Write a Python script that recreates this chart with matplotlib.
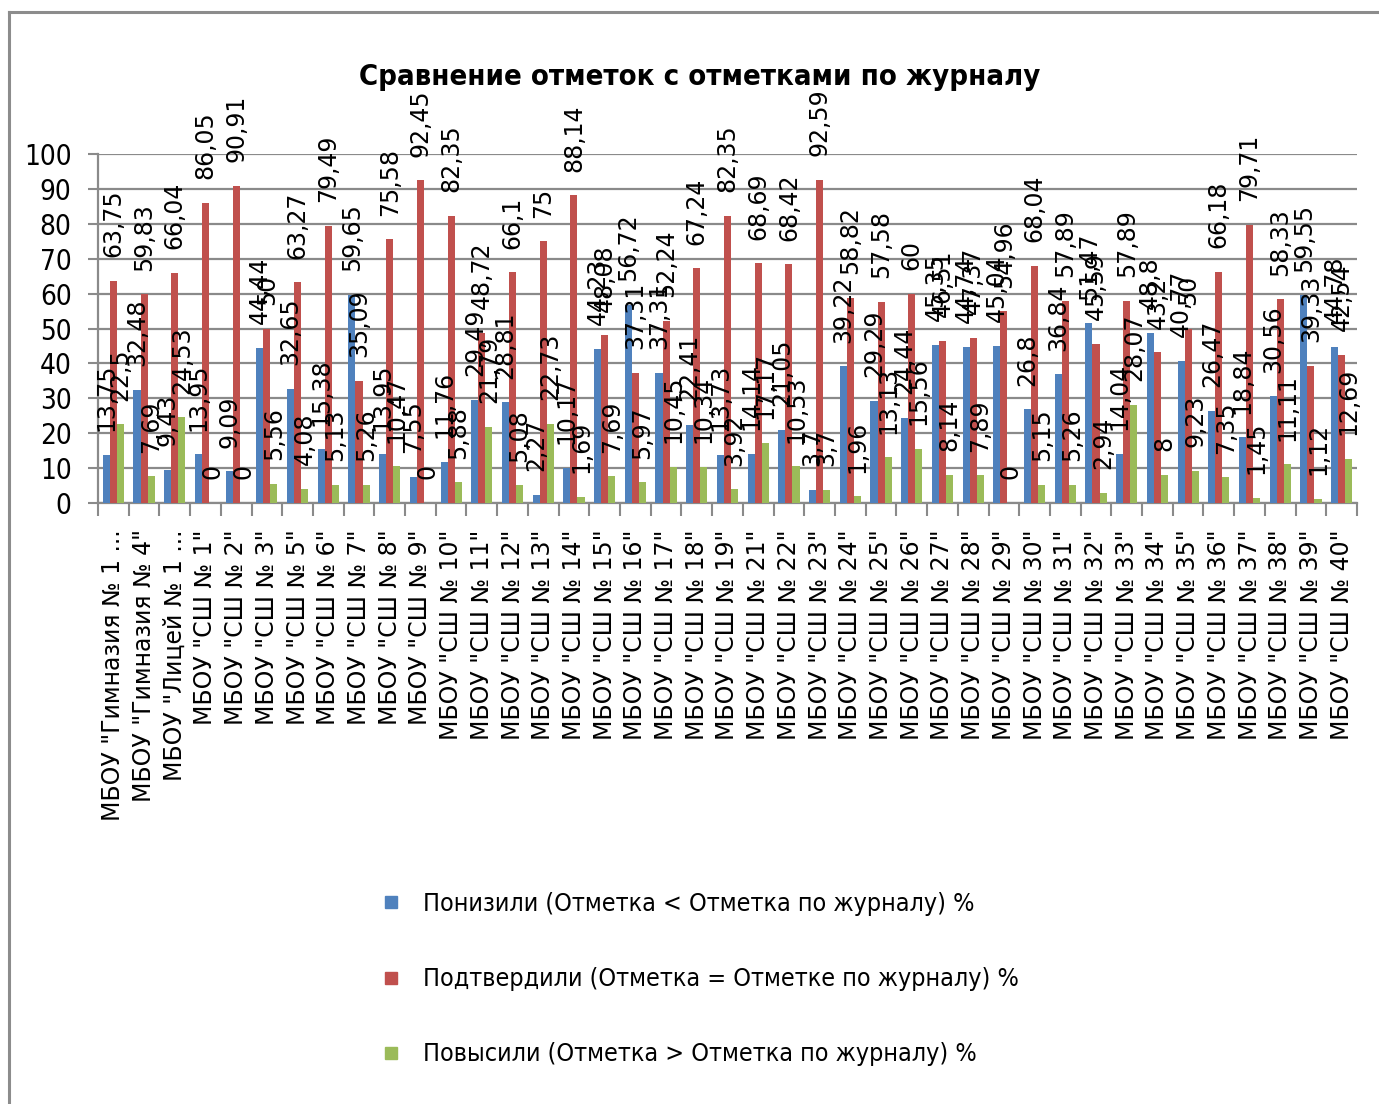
import matplotlib
matplotlib.use("Agg")
import matplotlib.pyplot as plt
import numpy as np
from matplotlib import font_manager
from matplotlib.font_manager import FontProperties
from matplotlib.lines import Line2D

schools = ['МБОУ "Гимназия № 1 ...', 'МБОУ "Гимназия № 4"', 'МБОУ "Лицей № 1 ...',
           'МБОУ "СШ № 1"', 'МБОУ "СШ № 2"', 'МБОУ "СШ № 3"', 'МБОУ "СШ № 5"',
           'МБОУ "СШ № 6"', 'МБОУ "СШ № 7"', 'МБОУ "СШ № 8"', 'МБОУ "СШ № 9"',
           'МБОУ "СШ № 10"', 'МБОУ "СШ № 11"', 'МБОУ "СШ № 12"', 'МБОУ "СШ № 13"',
           'МБОУ "СШ № 14"', 'МБОУ "СШ № 15"', 'МБОУ "СШ № 16"', 'МБОУ "СШ № 17"',
           'МБОУ "СШ № 18"', 'МБОУ "СШ № 19"', 'МБОУ "СШ № 21"', 'МБОУ "СШ № 22"',
           'МБОУ "СШ № 23"', 'МБОУ "СШ № 24"', 'МБОУ "СШ № 25"', 'МБОУ "СШ № 26"',
           'МБОУ "СШ № 27"', 'МБОУ "СШ № 28"', 'МБОУ "СШ № 29"', 'МБОУ "СШ № 30"',
           'МБОУ "СШ № 31"', 'МБОУ "СШ № 32"', 'МБОУ "СШ № 33"', 'МБОУ "СШ № 34"',
           'МБОУ "СШ № 35"', 'МБОУ "СШ № 36"', 'МБОУ "СШ № 37"', 'МБОУ "СШ № 38"',
           'МБОУ "СШ № 39"', 'МБОУ "СШ № 40"']

lowered = [13.75, 32.48, 9.43, 13.95, 9.09, 44.44, 32.65, 15.38, 59.65, 13.95, 7.55,
           11.76, 29.49, 28.81, 2.27, 10.17, 44.23, 56.72, 37.31, 22.41, 13.73, 14.14,
           21.05, 3.7, 39.22, 29.29, 24.44, 45.35, 44.74, 45.04, 26.8, 36.84, 51.47,
           14.04, 48.8, 40.77, 26.47, 18.84, 30.56, 59.55, 44.78]
confirmed = [63.75, 59.83, 66.04, 86.05, 90.91, 50, 63.27, 79.49, 35.09, 75.58, 92.45,
             82.35, 48.72, 66.1, 75, 88.14, 48.08, 37.31, 52.24, 67.24, 82.35, 68.69,
             68.42, 92.59, 58.82, 57.58, 60, 46.51, 47.37, 54.96, 68.04, 57.89, 45.59,
             57.89, 43.2, 50, 66.18, 79.71, 58.33, 39.33, 42.54]
raised = [22.5, 7.69, 24.53, 0, 0, 5.56, 4.08, 5.13, 5.26, 10.47, 0,
          5.88, 21.79, 5.08, 22.73, 1.69, 7.69, 5.97, 10.45, 10.34, 3.92, 17.17,
          10.53, 3.7, 1.96, 13.13, 15.56, 8.14, 7.89, 0, 5.15, 5.26, 2.94,
          28.07, 8, 9.23, 7.35, 1.45, 11.11, 1.12, 12.69]

series_names = ['Понизили (Отметка < Отметка по журналу) %',
                'Подтвердили (Отметка = Отметке по журналу) %',
                'Повысили (Отметка > Отметка по журналу) %']
colors = ['#4F81BD', '#C0504D', '#9BBB59']
title = 'Сравнение отметок с отметками по журналу'

# look for a condensed face (the original uses a narrow Calibri-like font)
cond_reg, cond_bold = None, None
for f in font_manager.fontManager.ttflist:
    narrowish = ('Narrow' in f.name or 'Condensed' in f.name or
                 str(f.stretch) in ('condensed', 'semi-condensed', '75', '87'))
    if not narrowish or f.style != 'normal':
        continue
    w = f.weight if isinstance(f.weight, int) else (700 if f.weight == 'bold' else 400)
    if w == 400 and cond_reg is None:
        cond_reg = f.fname
    if w == 700 and cond_bold is None:
        cond_bold = f.fname

if cond_reg:
    fp_tick = FontProperties(fname=cond_reg, size=20)
    fp_leg = FontProperties(fname=cond_reg, size=18)
else:
    fp_tick = FontProperties(family='Liberation Sans', size=20)
    fp_leg = FontProperties(family='Liberation Sans', size=17.5)
if cond_bold:
    fp_title = FontProperties(fname=cond_bold, size=21)
else:
    fp_title = FontProperties(family='Liberation Sans', weight='bold', size=21)

W, H = 1379, 1104
fig = plt.figure(figsize=(W / 100, H / 100), dpi=100)
ax = fig.add_axes([98 / W, 1 - 503 / H, (1357 - 98) / W, (503 - 154) / H])

x = np.arange(len(schools))
bw = 0.23
grid_c = '#8a8a8a'

for k, vals in enumerate([lowered, confirmed, raised]):
    pos = x + (k - 1) * bw
    ax.bar(pos, vals, width=bw, color=colors[k], zorder=3)
    for px, v in zip(pos, vals):
        ax.annotate(f'{v:g}'.replace('.', ','), (px, v), xytext=(0, 17),
                    textcoords='offset points', rotation=90, ha='center', va='bottom',
                    fontsize=17, family='DejaVu Sans', zorder=5, annotation_clip=False)

ax.set_xlim(-0.5, len(schools) - 0.5)
ax.set_ylim(0, 100)
ax.set_yticks(range(0, 101, 10))
ax.set_yticklabels([str(v) for v in range(0, 101, 10)], fontproperties=fp_tick)
ax.tick_params(axis='y', length=7, width=1.5, color=grid_c, pad=12)
ax.grid(axis='y', color=grid_c, linewidth=1.6, zorder=0)
ax.set_axisbelow(True)

ax.set_xticks(x)
ax.set_xticklabels(schools, rotation=90, fontsize=17, family='DejaVu Sans', va='top')
ax.set_xticks(np.arange(-0.5, len(schools), 1), minor=True)
ax.tick_params(axis='x', which='major', length=0, pad=19)
ax.tick_params(axis='x', which='minor', length=9, width=1.5, color=grid_c)

for s in ['top', 'right']:
    ax.spines[s].set_visible(False)
for s in ['left', 'bottom']:
    ax.spines[s].set_color(grid_c)
    ax.spines[s].set_linewidth(1.6)

fig.text(700 / W, 1 - 77 / H, title, ha='center', va='center', fontproperties=fp_title)

handles = [Line2D([], [], linestyle='none', marker='s', markersize=9,
                  markerfacecolor=c, markeredgecolor=c) for c in colors]
fig.legend(handles, series_names, loc='upper left', bbox_to_anchor=(378 / W, 1 - 892 / H),
           frameon=False, prop=fp_leg, handlelength=1.0,
           handletextpad=0.8, labelspacing=2.05, borderpad=0, borderaxespad=0)

# outer frame (left and top edges visible in the original)
fig.add_artist(Line2D([9 / W, 9 / W], [0, 1 - 12 / H], color='#8c8c8c', lw=2.2,
                      transform=fig.transFigure))
fig.add_artist(Line2D([9 / W, 1], [1 - 12 / H, 1 - 12 / H], color='#8c8c8c', lw=2.2,
                      transform=fig.transFigure))

fig.savefig('out.png', dpi=100)
